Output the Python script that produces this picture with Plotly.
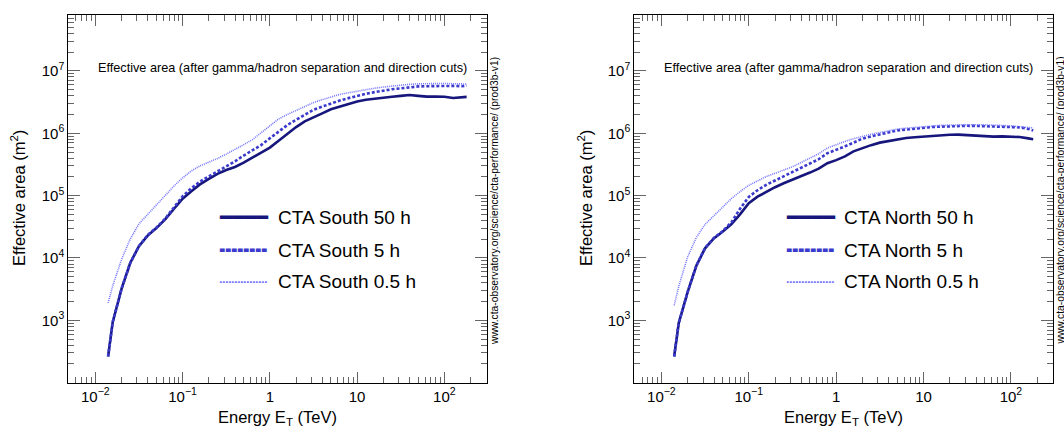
import plotly.graph_objects as go

# ---------------- data ----------------
energy_tev = [0.0140, 0.0158, 0.0200, 0.0251, 0.0316, 0.0398, 0.0501, 0.0631, 0.0794, 0.100,
              0.126, 0.158, 0.200, 0.251, 0.316, 0.398, 0.501, 0.631, 0.794, 1.00,
              1.26, 1.58, 2.00, 2.51, 3.16, 3.98, 5.01, 6.31, 7.94, 10.0,
              12.6, 15.8, 20.0, 25.1, 31.6, 39.8, 50.1, 63.1, 79.4, 100.0,
              126.0, 158.0, 180.0]

south_50h = [263, 933, 3236, 8318, 15490, 22900, 30200, 41700, 61000, 89100,
             117500, 151400, 186200, 223900, 257000, 288400, 338800, 407400, 489800, 588800,
             758600, 977200, 1.259e6, 1.549e6, 1.82e6, 2.09e6, 2.43e6, 2.69e6, 2.95e6, 3.24e6,
             3.44e6, 3.59e6, 3.74e6, 3.86e6, 3.98e6, 4.12e6, 3.98e6, 3.87e6, 3.89e6, 3.85e6,
             3.69e6, 3.78e6, 3.83e6]
south_5h = [263, 933, 3236, 8318, 15490, 23440, 30900, 42660, 64570, 97720,
            131800, 167500, 204200, 243200, 289700, 354800, 439500, 533300, 645700, 831800,
            1.072e6, 1.349e6, 1.652e6, 1.995e6, 2.388e6, 2.679e6, 3.006e6, 3.342e6, 3.664e6, 4.009e6,
            4.295e6, 4.571e6, 4.842e6, 5.082e6, 5.248e6, 5.521e6, 5.649e6, 5.689e6, 5.754e6, 5.728e6,
            5.754e6, 5.689e6, 5.821e6]
south_05h = [1905, 3548, 9550, 20180, 35240, 50120, 70790, 100000, 142200, 192800,
             249500, 299200, 342000, 394500, 463400, 544500, 656100, 790700, 1.023e6, 1.349e6,
             1.698e6, 1.995e6, 2.323e6, 2.692e6, 3.105e6, 3.459e6, 3.846e6, 4.207e6, 4.467e6, 4.753e6,
             5.012e6, 5.272e6, 5.521e6, 5.741e6, 5.902e6, 6.095e6, 6.194e6, 6.252e6, 6.31e6, 6.31e6,
             6.237e6, 6.166e6, 6.166e6]

north_50h = [263, 906, 2864, 7499, 14290, 20610, 26300, 34670, 50120, 75510,
             96380, 115600, 136500, 157800, 178600, 202800, 234400, 271000, 331100, 371500,
             426600, 512900, 580800, 645700, 707900, 753400, 799800, 841400, 865000, 891300,
             912000, 931100, 948400, 950600, 928900, 912000, 897400, 885100, 891300, 885100,
             871000, 827900, 803500]
north_5h = [263, 906, 2864, 7499, 14450, 20890, 26920, 37150, 61660, 95500,
            122200, 148900, 175000, 205100, 241000, 283100, 331100, 383700, 478600, 537000,
            616600, 707900, 822400, 891300, 961600, 1.035e6, 1.112e6, 1.148e6, 1.189e6, 1.230e6,
            1.259e6, 1.279e6, 1.297e6, 1.312e6, 1.318e6, 1.312e6, 1.303e6, 1.288e6, 1.288e6, 1.274e6,
            1.245e6, 1.175e6, 1.107e6]
north_05h = [1738, 3508, 10470, 21280, 34590, 47860, 65770, 89330, 115900, 146200,
             172200, 202300, 228000, 257000, 290400, 340400, 399900, 469900, 579400, 663700,
             739600, 818500, 901600, 963800, 1.030e6, 1.099e6, 1.167e6, 1.208e6, 1.247e6, 1.288e6,
             1.324e6, 1.340e6, 1.355e6, 1.371e6, 1.380e6, 1.374e6, 1.365e6, 1.352e6, 1.343e6, 1.318e6,
             1.274e6, 1.245e6, 1.222e6]

south_labels = ["CTA South 50 h", "CTA South 5 h", "CTA South 0.5 h"]
north_labels = ["CTA North 50 h", "CTA North 5 h", "CTA North 0.5 h"]

x_tick_vals = [0.01, 0.1, 1, 10, 100]
x_tick_text = ["10<sup>−2</sup>", "10<sup>−1</sup>", "1", "10", "10<sup>2</sup>"]
y_tick_vals = [1e3, 1e4, 1e5, 1e6, 1e7]
y_tick_text = ["10<sup>3</sup>", "10<sup>4</sup>", "10<sup>5</sup>", "10<sup>6</sup>", "10<sup>7</sup>"]

x_title = "Energy E<sub>T</sub> (TeV)"
y_title = "Effective area (m<sup>2</sup>)"
top_note = "Effective area (after gamma/hadron separation and direction cuts)"
side_note = "www.cta-observatory.org/science/cta-performance/ (prod3b-v1)"

# ---------------- styles ----------------
FONT = "Liberation Sans, Arial, sans-serif"
KEY_FONT = "DejaVu Sans Mono, DejaVu Sans, monospace"
colors = ["#16167c", "#3a3acc", "#7474ff"]
dashes = ["solid", "3px,2px", "1px,1px"]
widths = [2.6, 2.6, 1.6]
key_glyphs = ["━━━━", "╍╍╍╍", "┈┈┈┈"]   # legend key samples drawn as text

W, H = 1064, 430
left_dom = [68.3 / W, 486.7 / W]
right_dom = [634.3 / W, 1053.3 / W]
y_dom = [1 - 382.7 / H, 1 - 15.0 / H]

fig = go.Figure()

panels = [
    ("x", "y", [south_50h, south_5h, south_05h], south_labels),
    ("x2", "y2", [north_50h, north_5h, north_05h], north_labels),
]
for xa, ya, series, labels in panels:
    for i, (vals, name) in enumerate(zip(series, labels)):
        fig.add_trace(go.Scatter(
            x=energy_tev, y=vals, mode="lines", name=name,
            xaxis=xa, yaxis=ya, showlegend=False,
            line=dict(color=colors[i], dash=dashes[i], width=widths[i]),
            hoverinfo="skip",
        ))

minor_x = [m * 10 ** k for k in range(-3, 3) for m in range(2, 10)]
minor_y = [m * 10 ** k for k in range(2, 8) for m in range(2, 10)]

def xaxis_cfg(domain, anchor):
    return dict(
        type="log", domain=domain, anchor=anchor, range=[-2.31, 2.485],
        tickmode="array", tickvals=x_tick_vals, ticktext=x_tick_text,
        ticks="inside", ticklen=11, tickwidth=1, tickcolor="#666",
        minor=dict(tickmode="array", tickvals=minor_x, ticks="inside", ticklen=6,
                   tickwidth=1, tickcolor="#666", showgrid=False),
        showline=True, linecolor="black", linewidth=1, mirror="allticks",
        showgrid=False, zeroline=False, automargin=False,
        tickfont=dict(family=FONT, size=15, color="black"),
    )

def yaxis_cfg(domain, anchor):
    return dict(
        type="log", domain=domain, anchor=anchor, range=[2.0, 7.897],
        tickmode="array", tickvals=y_tick_vals, ticktext=y_tick_text,
        ticks="inside", ticklen=12, tickwidth=1, tickcolor="#666",
        minor=dict(tickmode="array", tickvals=minor_y, ticks="inside", ticklen=6,
                   tickwidth=1, tickcolor="#666", showgrid=False),
        showline=True, linecolor="black", linewidth=1, mirror="allticks",
        showgrid=False, zeroline=False, automargin=False,
        tickfont=dict(family=FONT, size=15, color="black"),
    )

annotations = []
panel_text = [
    # x-title centre, top-note left, y-title x, side-note x, legend key left, legend text left, labels
    (277.5, 95.7, 18, 494, 218, 277, south_labels),
    (843.8, 661.7, 585, 1059.5, 785, 843, north_labels),
]
legend_rows_px = [217.3, 250.0, 281.7]
for cx_ax, left_px, ytitle_px, side_px, key_px, text_px, labels in panel_text:
    annotations.append(dict(text=x_title, x=cx_ax / W, y=1 - 418 / H, xref="paper", yref="paper",
                            xanchor="center", yanchor="middle", showarrow=False,
                            font=dict(family=FONT, size=16.5, color="black")))
    annotations.append(dict(text=y_title, x=ytitle_px / W, y=1 - 198 / H, xref="paper", yref="paper",
                            xanchor="center", yanchor="middle", textangle=-90, showarrow=False,
                            font=dict(family=FONT, size=16.5, color="black")))
    annotations.append(dict(text=top_note, x=left_px / W, y=1 - 68 / H, xref="paper", yref="paper",
                            xanchor="left", yanchor="middle", showarrow=False,
                            font=dict(family=FONT, size=12.7, color="black")))
    annotations.append(dict(text=side_note, x=side_px / W, y=1 - 201 / H, xref="paper", yref="paper",
                            xanchor="center", yanchor="middle", textangle=-90, showarrow=False,
                            font=dict(family=FONT, size=10.3, color="black")))
    # legend (keys + labels) as text
    for i, (name, row) in enumerate(zip(labels, legend_rows_px)):
        annotations.append(dict(text=key_glyphs[i], x=key_px / W, y=1 - row / H,
                                xref="paper", yref="paper", xanchor="left", yanchor="middle",
                                showarrow=False, borderpad=0,
                                font=dict(family=KEY_FONT, size=20, color=colors[i])))
        annotations.append(dict(text=name, x=text_px / W, y=1 - row / H,
                                xref="paper", yref="paper", xanchor="left", yanchor="middle",
                                showarrow=False, borderpad=0,
                                font=dict(family=FONT, size=19, color="black")))

fig.update_layout(
    width=W, height=H,
    margin=dict(l=0, r=0, t=0, b=0, pad=0),
    paper_bgcolor="white", plot_bgcolor="white",
    font=dict(family=FONT, color="black"),
    xaxis=xaxis_cfg(left_dom, "y"),
    yaxis=yaxis_cfg(y_dom, "x"),
    xaxis2=xaxis_cfg(right_dom, "y2"),
    yaxis2=yaxis_cfg(y_dom, "x2"),
    annotations=annotations,
    showlegend=False,
)

fig.write_html("out.html", config={"displayModeBar": False},
               post_script="document.body.style.margin='0px';")
